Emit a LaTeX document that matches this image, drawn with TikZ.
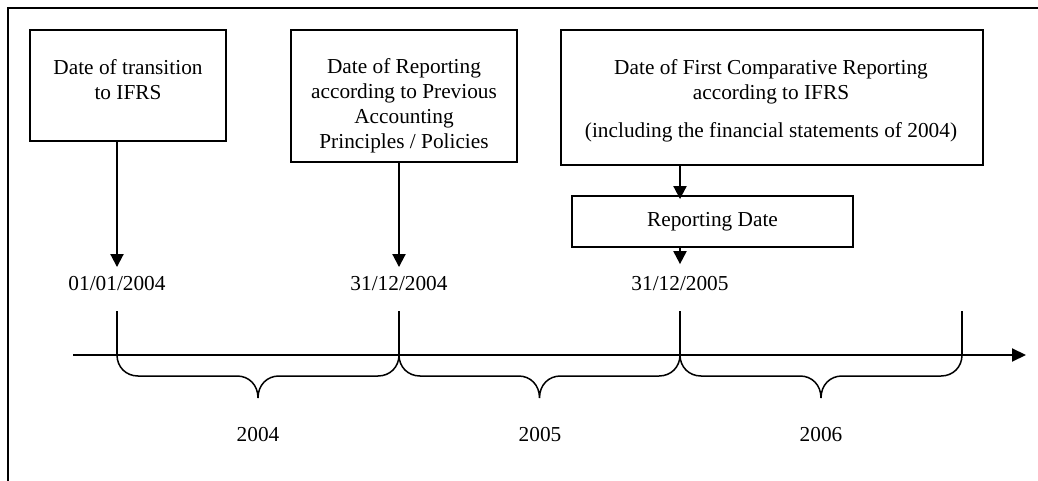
\documentclass[tikz,border=0pt]{standalone}
\usepackage{fontspec}
\setmainfont{Liberation Serif}
\usetikzlibrary{arrows.meta,calc}
\begin{document}
\begin{tikzpicture}[x=1pt,y=-1pt,
  box/.style={draw, line width=1.9pt, inner sep=0pt},
  txt/.style={align=center, inner sep=0pt, font=\fontsize{21.3}{25}\selectfont},
  arr/.style={line width=2pt, -{Triangle[length=13pt,width=13pt]}},
  tickline/.style={line width=1.5pt},
  bracestyle/.style={line width=1.5pt},
]
\useasboundingbox (0,0) rectangle (1038,481);
% outer frame
\draw[line width=1.9pt] (1038,8) -- (8,8) -- (8,481);

% boxes
\node[box, minimum width=196pt, minimum height=111pt] (b1) at (128,85.5) {};
\node[txt, anchor=north] (t1) at (128,59) {Date of transition\\to IFRS};
\node[box, minimum width=226pt, minimum height=132pt] (b2) at (404,96) {};
\node[txt, anchor=north] (t2) at (404,58) {Date of Reporting\\according to Previous\\Accounting\\Principles / Policies};
\node[box, minimum width=422pt, minimum height=135pt] (b3) at (772,97.5) {};
\node[txt, anchor=north] (t3) at (771,59) {Date of First Comparative Reporting\\according to IFRS\\[13pt](including the financial statements of 2004)};
\node[box, txt, minimum width=281pt, minimum height=51pt] (rd) at (712.5,221.5) {Reporting Date};

% dates
\node[txt, anchor=base] (d1) at (117,290) {01/01/2004};
\node[txt, anchor=base] (d2) at (399,290) {31/12/2004};
\node[txt, anchor=base] (d3) at (680,290) {31/12/2005};

% arrows
\draw[arr] (d1 |- b1.south) -- ($(d1.north)+(0,-8.6)$);
\draw[arr] (d2 |- b2.south) -- ($(d2.north)+(0,-8.6)$);
\draw[arr] (d3 |- b3.south) -- ($(d3 |- rd.north)+(0,4)$);
\draw[arr] (d3 |- rd.south) -- ($(d3.north)+(0,-11.5)$);

% timeline
\coordinate (L0) at (73,355);
\coordinate (L1) at (1026,355);
\draw[line width=2pt, -{Triangle[length=14pt,width=13pt]}] (L0) -- (L1);

% ticks
\coordinate (k1) at (117,311);
\coordinate (k2) at (399,311);
\coordinate (k3) at (680,311);
\coordinate (k4) at (962,311);
\foreach \k in {k1,k2,k3,k4} \draw[tickline] (\k) -- (\k |- L0);

% braces
\foreach \xa/\xb in {117/399, 399/680, 680/962}{
  \pgfmathsetmacro{\m}{(\xa+\xb)/2}
  \draw[bracestyle] (\xa,355) .. controls (\xa,367) and (\xa+9,376) .. (\xa+21,376)
    -- (\m-21,376) .. controls (\m-9,376) and (\m,385) .. (\m,398)
    .. controls (\m,385) and (\m+9,376) .. (\m+21,376)
    -- (\xb-21,376) .. controls (\xb-9,376) and (\xb,367) .. (\xb,355);
}

% years
\node[txt, anchor=base] (y1) at (258,441) {2004};
\node[txt, anchor=base] (y2) at (540,441) {2005};
\node[txt, anchor=base] (y3) at (821,441) {2006};
\end{tikzpicture}
\end{document}
